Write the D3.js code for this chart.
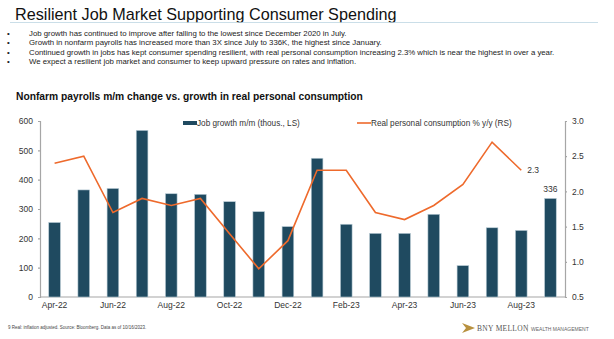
<!DOCTYPE html>
<html>
<head>
<meta charset="utf-8">
<script src="https://cdn.jsdelivr.net/npm/d3@7"></script>
<style>
  body { margin: 0; background: #fff; }
  svg { font-family: Arial, "Liberation Sans", sans-serif; display: block; }
</style>
</head>
<body>
<div id="chart"></div>
<script>
// data
var months = ['Apr-22','May-22','Jun-22','Jul-22','Aug-22','Sep-22','Oct-22','Nov-22','Dec-22',
              'Jan-23','Feb-23','Mar-23','Apr-23','May-23','Jun-23','Jul-23','Aug-23','Sep-23'];
var jobGrowth = [254, 365, 370, 568, 352, 350, 325, 291, 240, 473, 248, 217, 217, 282, 107, 236, 227, 336];
var consumption = [2.4, 2.5, 1.7, 1.9, 1.8, 1.9, 1.4, 0.9, 1.3, 2.3, 2.3, 1.7, 1.6, 1.8, 2.1, 2.7, 2.3, null];
var leftTicks = [0, 100, 200, 300, 400, 500, 600];
var rightTicks = [0.5, 1.0, 1.5, 2.0, 2.5, 3.0];
var xLabels = ['Apr-22','Jun-22','Aug-22','Oct-22','Dec-22','Feb-23','Apr-23','Jun-23','Aug-23'];
var bullets = [
  'Job growth has continued to improve after falling to the lowest since December 2020 in July.',
  'Growth in nonfarm payrolls has increased more than 3X since July to 336K, the highest since January.',
  'Continued growth in jobs has kept consumer spending resilient, with real personal consumption increasing 2.3% which is near the highest in over a year.',
  'We expect a resilient job market and consumer to keep upward pressure on rates and inflation.'
];

var W = 614, H = 339;
var barColor = '#1f4a60', lineColor = '#ee6a2c', axisColor = '#a6a6a6';

var svg = d3.select('#chart').append('svg')
    .attr('width', W)
    .attr('height', H);

// page title + underline
svg.append('text')
    .attr('x', 15).attr('y', 20)
    .attr('font-size', 16.2)
    .attr('fill', '#111')
    .text('Resilient Job Market Supporting Consumer Spending');
svg.append('line')
    .attr('x1', 10).attr('x2', 598)
    .attr('y1', 22.5).attr('y2', 22.5)
    .attr('stroke', '#bcd6e2').attr('stroke-width', 0.8);

// bullets
var bl = svg.append('g').attr('font-size', 7.8).attr('fill', '#222');
bullets.forEach(function(t, i) {
  bl.append('text').attr('x', 7).attr('y', 36 + i * 9.3).text('•');
  bl.append('text').attr('x', 29).attr('y', 36 + i * 9.3).text(t);
});

// chart title
svg.append('text')
    .attr('x', 16).attr('y', 100)
    .attr('font-size', 10.25)
    .attr('font-weight', 'bold')
    .attr('fill', '#111')
    .text('Nonfarm payrolls m/m change vs. growth in real personal consumption');

// plot area
var m = {left: 40, right: 565, top: 121, bottom: 297};

var x = d3.scaleBand()
    .domain(months)
    .range([m.left, m.right])
    .paddingInner(0.6)
    .paddingOuter(0.3);

var yL = d3.scaleLinear().domain([0, 600]).range([m.bottom, m.top]);
var yR = d3.scaleLinear().domain([0.5, 3.0]).range([m.bottom, m.top]);

// left axis
var gL = svg.append('g')
    .attr('transform', 'translate(' + m.left + ',0)')
    .call(d3.axisLeft(yL).tickValues(leftTicks).tickSize(2).tickPadding(5));
gL.selectAll('text').attr('font-size', 8.5).attr('fill', '#333').attr('font-family', 'Arial, "Liberation Sans", sans-serif');

// right axis
var gR = svg.append('g')
    .attr('transform', 'translate(' + m.right + ',0)')
    .call(d3.axisRight(yR).tickValues(rightTicks).tickFormat(d3.format('.1f')).tickSize(2).tickPadding(5));
gR.selectAll('text').attr('font-size', 8.5).attr('fill', '#333').attr('font-family', 'Arial, "Liberation Sans", sans-serif');

// bottom axis
var gB = svg.append('g')
    .attr('transform', 'translate(0,' + m.bottom + ')')
    .call(d3.axisBottom(x).tickValues(xLabels).tickSize(0).tickPadding(5));
gB.selectAll('text').attr('font-size', 8.5).attr('fill', '#333').attr('font-family', 'Arial, "Liberation Sans", sans-serif');

[gL, gR, gB].forEach(function(g) {
  g.selectAll('path, line').attr('stroke', axisColor).attr('stroke-width', 1.2);
});
gB.select('.domain').attr('d', 'M' + m.left + ',0H' + m.right);

// bars
svg.selectAll('.bar')
    .data(jobGrowth)
    .enter()
    .append('rect')
      .attr('class', 'bar')
      .attr('x', function(d, i) { return x(months[i]); })
      .attr('width', x.bandwidth())
      .attr('y', function(d) { return yL(d); })
      .attr('height', function(d) { return m.bottom - yL(d); })
      .attr('fill', barColor)
      .attr('stroke', '#b9ccd6')
      .attr('stroke-width', 0.6);

// consumption line
var line = d3.line()
    .defined(function(d) { return d != null; })
    .x(function(d, i) { return x(months[i]) + x.bandwidth() / 2; })
    .y(function(d) { return yR(d); });

svg.append('path')
    .datum(consumption)
    .attr('d', line)
    .attr('fill', 'none')
    .attr('stroke', lineColor)
    .attr('stroke-width', 1.6);

// data labels
svg.append('text')
    .attr('x', x('Aug-23') + x.bandwidth() / 2 + 6)
    .attr('y', yR(2.3) + 3)
    .attr('font-size', 8.5).attr('fill', '#333')
    .text('2.3');
svg.append('text')
    .attr('x', x('Sep-23') + x.bandwidth() / 2)
    .attr('y', yL(336) - 6)
    .attr('text-anchor', 'middle')
    .attr('font-size', 8.5).attr('fill', '#333')
    .text('336');

// legend
var lg = svg.append('g').attr('font-size', 8.2).attr('fill', '#333');
lg.append('rect').attr('x', 183).attr('y', 121).attr('width', 14).attr('height', 4).attr('fill', barColor);
lg.append('text').attr('x', 197).attr('y', 126).text('Job growth m/m (thous., LS)');
lg.append('line').attr('x1', 357).attr('x2', 371).attr('y1', 123).attr('y2', 123)
    .attr('stroke', lineColor).attr('stroke-width', 1.6);
lg.append('text').attr('x', 371).attr('y', 126).text('Real personal consumption % y/y (RS)');

// footer
svg.append('text')
    .attr('x', 8).attr('y', 329)
    .attr('font-size', 4.5).attr('fill', '#444')
    .text('9     Real: inflation adjusted. Source: Bloomberg. Data as of 10/16/2023.');

// logo
var logo = svg.append('g');
logo.append('path')
    .attr('d', 'M462,323 L475,328 L462,333 L466,328 Z')
    .attr('fill', '#b8913f');
logo.append('text')
    .attr('x', 477).attr('y', 331)
    .attr('font-family', '"Liberation Serif", "DejaVu Serif", serif')
    .attr('font-size', 7.5).attr('fill', '#555')
    .attr('letter-spacing', 0.3)
    .text('BNY MELLON');
logo.append('line')
    .attr('x1', 527.5).attr('x2', 527.5).attr('y1', 324).attr('y2', 332)
    .attr('stroke', '#aaa').attr('stroke-width', 0.5);
logo.append('text')
    .attr('x', 531).attr('y', 330.5)
    .attr('font-size', 5).attr('fill', '#666')
    .text('WEALTH MANAGEMENT');
</script>
</body>
</html>
